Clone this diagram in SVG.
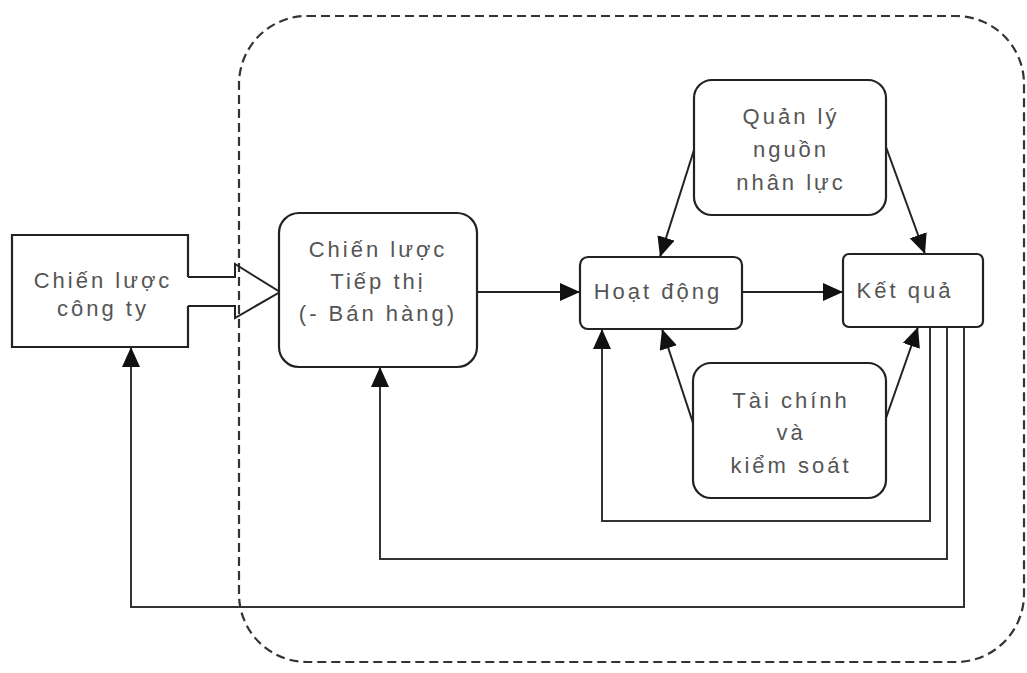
<svg xmlns="http://www.w3.org/2000/svg" width="1027" height="673" viewBox="0 0 1027 673">
<defs>
<marker id="arr" markerUnits="userSpaceOnUse" markerWidth="22" markerHeight="20" refX="20" refY="9" orient="auto">
<path d="M0,0 L20,9 L0,18 Z" fill="#111"/>
</marker>
<style>
.box{fill:#fff;stroke:#222;stroke-width:2.2}
.t{font-family:"Liberation Sans",Arial,sans-serif;font-size:22px;letter-spacing:3px;fill:#555;text-anchor:middle}
.c{fill:none;stroke:#222;stroke-width:2}
.l{fill:none;stroke:#333;stroke-width:2}
.dash{fill:none;stroke:#333;stroke-width:2.2;stroke-dasharray:9 5}
</style>
</defs>
<rect width="1027" height="673" fill="#fff"/>
<path id="container" class="dash" d="M307,16 H956 A68,68 0 0 1 1024,84 V594 A68,68 0 0 1 956,662 H307 A68,68 0 0 1 239,594 V84 A68,68 0 0 1 307,16 Z"/>
<g id="connectors">
<path class="c" d="M188,277 H235 V264 L280,292 L235,318 V306 H188"/>
<line class="c" x1="477" y1="292" x2="580" y2="292" marker-end="url(#arr)"/>
<line class="c" x1="742" y1="292" x2="843" y2="292" marker-end="url(#arr)"/>
<line class="c" x1="694" y1="150" x2="660" y2="257" marker-end="url(#arr)"/>
<line class="c" x1="886" y1="147" x2="925" y2="254" marker-end="url(#arr)"/>
<line class="c" x1="693" y1="423" x2="662" y2="329" marker-end="url(#arr)"/>
<line class="c" x1="886" y1="418" x2="918" y2="327" marker-end="url(#arr)"/>
<path class="l" d="M930,327 V521 H602 V329" marker-end="url(#arr)"/>
<path class="l" d="M947,327 V559 H380 V367" marker-end="url(#arr)"/>
<path class="l" d="M964,327 V607 H131 V347" marker-end="url(#arr)"/>
</g>
<g id="company">
<path class="box" d="M188,277 V235 H12 V347 H188 V306"/>
<text class="t" x="103" y="288">Chiến lược</text>
<text class="t" x="103" y="316">công ty</text>
</g>
<g id="marketing">
<rect class="box" x="279" y="213" width="198" height="154" rx="20"/>
<text class="t" x="378" y="257">Chiến lược</text>
<text class="t" x="378" y="289">Tiếp thị</text>
<text class="t" x="378" y="321">(- Bán hàng)</text>
</g>
<g id="operations">
<rect class="box" x="580" y="257" width="162" height="72" rx="8"/>
<text class="t" x="658" y="299">Hoạt động</text>
</g>
<g id="results">
<rect class="box" x="843" y="254" width="140" height="73" rx="6"/>
<text class="t" x="905" y="298">Kết quả</text>
</g>
<g id="hr">
<rect class="box" x="694" y="80" width="192" height="135" rx="18"/>
<text class="t" x="791" y="124">Quản lý</text>
<text class="t" x="791" y="157">nguồn</text>
<text class="t" x="791" y="190">nhân lực</text>
</g>
<g id="finance">
<rect class="box" x="693" y="363" width="193" height="135" rx="18"/>
<text class="t" x="791" y="408">Tài chính</text>
<text class="t" x="791" y="440">và</text>
<text class="t" x="791" y="473">kiểm soát</text>
</g>
</svg>
